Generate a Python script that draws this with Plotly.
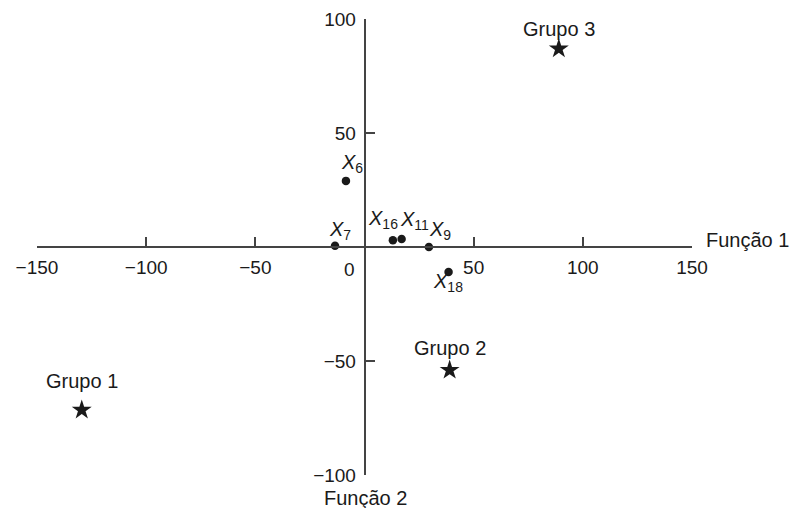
import plotly.graph_objects as go

# ---- data ----
point_ids = ["6", "7", "16", "11", "9", "18"]
point_f1 = [-8.5, -13.5, 13.0, 17.0, 29.5, 38.5]
point_f2 = [29.0, 0.5, 3.0, 3.5, 0.0, -11.0]

group_names = ["Grupo 1", "Grupo 2", "Grupo 3"]
group_f1 = [-129.5, 39.0, 89.0]
group_f2 = [-71.5, -54.0, 87.0]

x_ticks = [-150, -100, -50, 50, 100, 150]
y_ticks = [-100, -50, 50, 100]
x_title = "Função 1"
y_title = "Função 2"

# ---- styles ----
FONT = "Liberation Sans, Arial, sans-serif"
FS = 20
TFS = 19
TXT = "#1a1a1a"
AX = "#444444"
# label offsets (px) of the left edge / centre of each point label
label_dx = [-7, -8, -27, -4, -2, -18]
label_dy = [17, 15, 21, 19, 17, -10]
group_dy = [29, 22, 20]

fig = go.Figure()
fig.add_trace(go.Scatter(
    x=point_f1, y=point_f2, mode="markers",
    marker=dict(symbol="circle", size=8.5, color=TXT),
    cliponaxis=False, hoverinfo="skip", showlegend=False))
fig.add_trace(go.Scatter(
    x=group_f1, y=group_f2, mode="markers",
    marker=dict(symbol="star", size=15, color=TXT),
    cliponaxis=False, hoverinfo="skip", showlegend=False))

for pid, x, y, dx, dy in zip(point_ids, point_f1, point_f2, label_dx, label_dy):
    fig.add_annotation(x=x, y=y, text=f"<i>X</i><sub>{pid}</sub>", showarrow=False,
                       xanchor="left", yanchor="middle", xshift=dx, yshift=dy,
                       font=dict(family=FONT, size=FS, color=TXT))
for name, x, y, dy in zip(group_names, group_f1, group_f2, group_dy):
    fig.add_annotation(x=x, y=y, text=name, showarrow=False,
                       xanchor="center", yanchor="middle", yshift=dy,
                       font=dict(family=FONT, size=FS, color=TXT))

# origin label and axis titles
fig.add_annotation(x=0, y=0, text="0", showarrow=False, xanchor="center", yanchor="middle",
                   xshift=-15, yshift=-22, font=dict(family=FONT, size=TFS, color=TXT))
fig.add_annotation(x=x_ticks[-1], y=0, text=x_title, showarrow=False, xanchor="left",
                   yanchor="middle", xshift=12, yshift=7,
                   font=dict(family=FONT, size=FS, color=TXT))
fig.add_annotation(x=0, y=y_ticks[0], text=y_title, showarrow=False, xanchor="center",
                   yanchor="middle", xshift=1, yshift=-23,
                   font=dict(family=FONT, size=FS, color=TXT))

fig.update_layout(
    width=790, height=508,
    margin=dict(l=37, r=98, t=19, b=33),
    paper_bgcolor="white", plot_bgcolor="white",
    font=dict(family=FONT, size=FS, color=TXT),
    xaxis=dict(range=[-150, 150], anchor="free", position=0.5, side="bottom",
               automargin=False,
               showline=True, linecolor=AX, linewidth=1.5,
               ticks="inside", ticklen=9, tickwidth=1.5, tickcolor=AX,
               tickfont=dict(size=TFS),
               tickvals=x_ticks, ticktext=[str(v).replace("-", "\u2212") for v in x_ticks],
               showgrid=False, zeroline=False, ticklabelstandoff=3),
    yaxis=dict(range=[-100, 100], anchor="free", position=0.5, side="left",
               automargin=False,
               showline=True, linecolor=AX, linewidth=1.5,
               ticks="inside", ticklen=10, tickwidth=1.5, tickcolor=AX,
               tickfont=dict(size=TFS),
               tickvals=y_ticks, ticktext=[str(v).replace("-", "\u2212") for v in y_ticks],
               showgrid=False, zeroline=False, ticklabelstandoff=4),
)

fig.write_html("out.html", config={"displayModeBar": False},
               post_script="document.body.style.margin='0';document.body.style.overflow='hidden';")
